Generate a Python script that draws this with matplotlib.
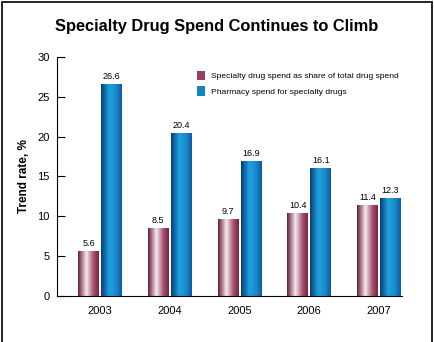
import numpy as np
import matplotlib.pyplot as plt
from matplotlib.colors import LinearSegmentedColormap
from matplotlib.patches import Rectangle, Patch

plt.rcParams['font.family'] = ['Liberation Sans', 'DejaVu Sans']

# -----------------------------
# Data
# -----------------------------
years = ["2003", "2004", "2005", "2006", "2007"]
share_total = [5.6, 8.5, 9.7, 10.4, 11.4]
pharmacy_spend = [26.6, 20.4, 16.9, 16.1, 12.3]
series_names = ["Specialty drug spend as share of total drug spend",
                "Pharmacy spend for specialty drugs"]

# -----------------------------
# Gradient colormaps (cylinder look)
# -----------------------------
maroon_cmap = LinearSegmentedColormap.from_list(
    "maroon", [(0.0, "#6a1a3e"), (0.4, "#f6eaee"), (0.75, "#a4506f"), (1.0, "#7a2448")])
blue_cmap = LinearSegmentedColormap.from_list(
    "blue", [(0.0, "#0a3f78"), (0.4, "#1fa2e2"), (0.75, "#1a86c8"), (1.0, "#0b5a9c")])

fig = plt.figure(figsize=(4.34, 3.42), dpi=100)
ax = fig.add_axes([0.131, 0.1345, 0.795, 0.699])

x = np.arange(len(years))
w = 0.30
off = 0.165

bars1 = ax.bar(x - off, share_total, width=w, color="none")
bars2 = ax.bar(x + off, pharmacy_spend, width=w, color="none")

grad = np.linspace(0, 1, 64).reshape(1, -1)
for bars, cmap in [(bars1, maroon_cmap), (bars2, blue_cmap)]:
    for b in bars:
        x0, y0 = b.get_x(), b.get_y()
        im = ax.imshow(grad, cmap=cmap, aspect="auto",
                       extent=[x0, x0 + b.get_width(), y0, y0 + b.get_height()],
                       zorder=2)
        im.set_clip_path(b)

for bars, vals in [(bars1, share_total), (bars2, pharmacy_spend)]:
    for b, v in zip(bars, vals):
        ax.text(b.get_x() + b.get_width() / 2, v + 0.4, f"{v}",
                ha="center", va="bottom", fontsize=6.5)

ax.set_xlim(-0.62, 4.33)
ax.set_ylim(0, 30)
ax.set_yticks([0, 5, 10, 15, 20, 25, 30])
ax.set_xticks(x)
ax.set_xticklabels(years)
ax.tick_params(axis="y", direction="in", length=6, width=0.8, labelsize=8, pad=5)
ax.tick_params(axis="x", length=0, labelsize=8, pad=7)
ax.spines["top"].set_visible(False)
ax.spines["right"].set_visible(False)
ax.set_ylabel("Trend rate, %", fontsize=8.5, fontweight="bold", labelpad=5.5)

handles = [Patch(facecolor="#9a3d62", edgecolor="none"),
           Patch(facecolor="#1580c4", edgecolor="none")]
ax.legend(handles, series_names, loc="upper left", bbox_to_anchor=(0.385, 0.975),
          frameon=False, fontsize=6.1, handlelength=0.9, handleheight=1.4,
          handletextpad=0.7, labelspacing=0.7)

fig.text(0.5, 0.922, "Specialty Drug Spend Continues to Climb",
         ha="center", va="center", fontsize=11.8, fontweight="bold")

# outer frame
fig.patches.append(Rectangle((2 / 434, -0.05), 430 / 434, 1.05 - 1.5 / 342,
                             transform=fig.transFigure, fill=False,
                             edgecolor="black", linewidth=1.2))

fig.savefig("out.png", dpi=100)
